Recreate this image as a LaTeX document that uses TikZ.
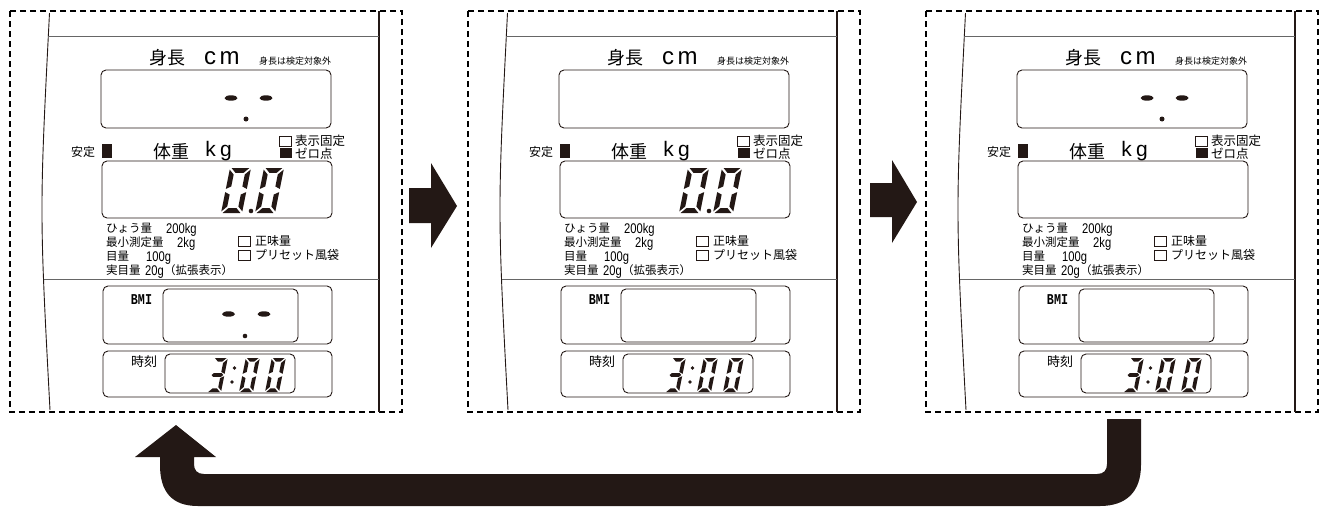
\documentclass[tikz,border=0pt]{standalone}
\usepackage{fontspec}
\usepackage{graphicx}
\setmainfont{Liberation Sans}
\newfontfamily\jp{Noto Sans CJK JP}
\newfontfamily\monof{Liberation Mono}
\newcommand\fs[1]{\fontsize{#1}{#1}\selectfont}
\definecolor{ink}{HTML}{231815}
\tikzset{
  txt/.style={inner sep=0pt, anchor=west},
  ltr/.style={inner sep=0pt, anchor=base},
  lcd/.style={draw=ink, line width=0.9pt, rounded corners=5pt},
  dashbox/.style={draw=black, line width=2.1pt, dash pattern=on 6pt off 4pt},
  cb/.style={draw=ink, line width=0.8pt},
  segc/.style={fill=ink},
  arr/.style={fill=ink},
  thinline/.style={draw=gray!80!black, line width=0.9pt},
}
% seven-segment pieces (local coords: origin bottom-left, y up)
\def\dsega{\fill[segc] (\sgG,\sgH) -- (\sgW-\sgG,\sgH) -- (\sgW-\sgG-\sgT,\sgH-\sgT) -- (\sgG+\sgT,\sgH-\sgT) -- cycle;}
\def\dsegd{\fill[segc] (\sgG,0) -- (\sgW-\sgG,0) -- (\sgW-\sgG-\sgT,\sgT) -- (\sgG+\sgT,\sgT) -- cycle;}
\def\dsegf{\fill[segc] (0,\sgH-\sgG) -- (\sgT,\sgH-\sgG-\sgT) -- (\sgT,\sgM+\sgG+\sgT/2) -- (0,\sgM+\sgG) -- cycle;}
\def\dsege{\fill[segc] (0,\sgG) -- (\sgT,\sgG+\sgT) -- (\sgT,\sgM-\sgG-\sgT/2) -- (0,\sgM-\sgG) -- cycle;}
\def\dsegb{\fill[segc] (\sgW,\sgH-\sgG) -- (\sgW-\sgT,\sgH-\sgG-\sgT) -- (\sgW-\sgT,\sgM+\sgG+\sgT/2) -- (\sgW,\sgM+\sgG) -- cycle;}
\def\dsegc{\fill[segc] (\sgW,\sgG) -- (\sgW-\sgT,\sgG+\sgT) -- (\sgW-\sgT,\sgM-\sgG-\sgT/2) -- (\sgW,\sgM-\sgG) -- cycle;}
\def\dsegg{\fill[segc] (\sgG,\sgM) -- (\sgG+\sgT/2,\sgM+\sgT/2) -- (\sgW-\sgG-\sgT/2,\sgM+\sgT/2) -- (\sgW-\sgG,\sgM) -- (\sgW-\sgG-\sgT/2,\sgM-\sgT/2) -- (\sgG+\sgT/2,\sgM-\sgT/2) -- cycle;}
\newcommand\sdigit[5]{%
  \begin{scope}[shift={(#1,#2)},x=1pt,y=1pt,xslant=0.2]
    \pgfmathsetmacro\sgW{#3}\pgfmathsetmacro\sgH{#4}%
    \pgfmathsetmacro\sgT{0.11*#4}\pgfmathsetmacro\sgG{0.035*#4}\pgfmathsetmacro\sgM{#4/2}%
    \foreach \s in {#5}{\csname dseg\s\endcsname}
  \end{scope}}
\newcommand\lcdbar[2]{\fill[segc] (#1,#2) ellipse [x radius=6.5pt, y radius=2.7pt];}
\newcommand\narrowtxt[1]{\scalebox{0.8}[1]{#1}}
% panel: #1 xshift, #2 prefix, #3 height dashes, #4 weight digits, #5 bmi dashes
\newcommand\panel[5]{%
\begin{scope}[xshift=#1]
  \draw[dashbox] (10,11) rectangle (402,412);
  \draw[ink, line width=2pt] (379,11) -- (379,412);
  \draw[ink, line width=0.9pt] (49.5,13) .. controls (39.4,211) .. (50,410);
  \draw[thinline] (48.3,36) -- (379,36);
  \draw[thinline] (43.6,279) -- (379,279);
  % height
  \node[txt,font=\jp\fs{18}] (#2-shincho) at (149,58) {身長};
  \node[ltr,font=\fs{24}] (#2-c) at (210,64) {c};
  \node[ltr,font=\fs{24}] (#2-m) at (229.5,64) {m};
  \node[txt,font=\jp\fs{9}] (#2-note) at (259,61) {身長は検定対象外};
  \draw[lcd] (101,70) rectangle (331,128);
  \ifnum#3=1
    \lcdbar{231}{98}\lcdbar{266}{98}
    \fill[segc] (246,119) circle (2.5pt);
  \fi
  % weight
  \node[txt,font=\jp\fs{12}] (#2-antei) at (71,152) {安定};
  \fill[ink] (101.5,144) rectangle (111.5,158);
  \node[txt,font=\jp\fs{18}] (#2-taiju) at (153,152) {体重};
  \node[ltr,font=\fs{21}] (#2-k) at (210.5,156) {k};
  \node[ltr,font=\fs{21}] (#2-g) at (226,156) {g};
  \draw[cb] (279.5,136) rectangle (291.5,146);
  \fill[ink] (279.5,148) rectangle (291.5,158);
  \node[txt,font=\jp\fs{12.5}] (#2-hyoji) at (295,141) {表示固定};
  \node[txt,font=\jp\fs{12.5}] (#2-zero) at (295,154) {ゼロ点};
  \draw[lcd] (102,161) rectangle (332,218);
  \ifnum#4=1
    \sdigit{221}{213}{21}{45}{a,b,c,d,e,f}
    \fill[segc] (251,211) circle (2.3pt);
    \sdigit{255}{213}{20}{45}{a,b,c,d,e,f}
  \fi
  % specs
  \node[txt,font=\jp\fs{11.5}] (#2-s1) at (106,228) {ひょう量};
  \node[anchor=base west,inner sep=0pt,font=\fs{14}] (#2-s1v) at (166,233) {\narrowtxt{200kg}};
  \node[txt,font=\jp\fs{11.5}] (#2-s2) at (106,242) {最小測定量};
  \node[anchor=base west,inner sep=0pt,font=\fs{14}] (#2-s2v) at (177,247) {\narrowtxt{2kg}};
  \node[txt,font=\jp\fs{11.5}] (#2-s3) at (106,256) {目量};
  \node[anchor=base west,inner sep=0pt,font=\fs{14}] (#2-s3v) at (146,261) {\narrowtxt{100g}};
  \node[txt,font=\jp\fs{11.5}] (#2-s4) at (106,270) {実目量};
  \node[anchor=base west,inner sep=0pt,font=\fs{14}] (#2-s4v) at (145,275) {\narrowtxt{20g}};
  \node[txt,font=\jp\fs{11.5}] (#2-s4b) at (164,270) {（拡張表示）};
  \draw[cb] (238,236) rectangle (250,246);
  \node[txt,font=\jp\fs{12}] (#2-shomi) at (255,241) {正味量};
  \draw[cb] (238,250) rectangle (250,260);
  \node[txt,font=\jp\fs{12}] (#2-preset) at (255,255) {プリセット風袋};
  % BMI
  \draw[lcd] (103,286) rectangle (332,344);
  \draw[lcd] (163,289) rectangle (298,342);
  \node[inner sep=0pt,font=\monof\bfseries\fs{15}] (#2-bmi) at (141.5,300) {\scalebox{0.78}[1]{BMI}};
  \ifnum#5=1
    \lcdbar{228.5}{314}\lcdbar{264}{314}
    \fill[segc] (245,336) circle (2.3pt);
  \fi
  % clock
  \draw[lcd] (103,351) rectangle (332,397);
  \draw[lcd] (165,354) rectangle (295,393);
  \node[txt,font=\jp\fs{13}] (#2-jikoku) at (131,362) {時刻};
  \sdigit{207}{392}{14}{34}{a,b,c,d,g}
  \fill[segc] (232,382) circle (1.8pt);
  \fill[segc] (234.5,368) circle (1.8pt);
  \sdigit{239}{392}{14}{34}{a,b,c,d,e,f}
  \sdigit{265}{392}{14}{34}{a,b,c,d,e,f}
\end{scope}}
\begin{document}
\begin{tikzpicture}[x=1pt,y=-1pt]
  \useasboundingbox (0,0) rectangle (1320,507);
  \panel{0}{p1}{1}{1}{1}
  \panel{458}{p2}{0}{1}{0}
  \panel{916}{p3}{1}{0}{0}
  % step arrows
  \fill[arr] (409,188) -- (431,188) -- (431,163) -- (457,206) -- (431,248) -- (431,223) -- (409,223) -- cycle;
  \fill[arr] (870,183) -- (892,183) -- (892,160) -- (917,202) -- (892,243) -- (892,217) -- (870,217) -- cycle;
  % return arrow
  \fill[arr] (1141,419) -- (1141,465) .. controls (1141,492) and (1126,506) .. (1100,506)
    -- (198,506) .. controls (172,506) and (160,492) .. (160,465)
    -- (160,457) -- (135,457) -- (176,425) -- (216,457) -- (194,457) -- (194,464)
    .. controls (194,470) and (197,474) .. (204,474) -- (1097,474)
    .. controls (1104,474) and (1107,470) .. (1107,464) -- (1107,419) -- cycle;
\end{tikzpicture}
\end{document}
